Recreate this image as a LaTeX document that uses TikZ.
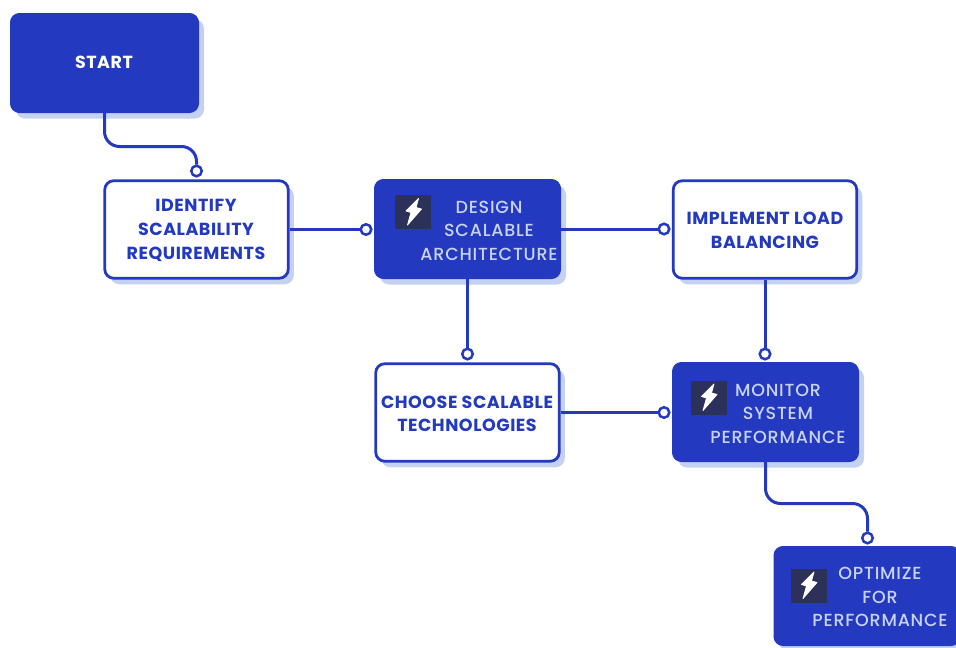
\documentclass[tikz,border=0pt]{standalone}
\usepackage{fontspec}
\setmainfont{Poppins}
\newfontfamily\softface{Poppins Medium}[LetterSpace=4.5]
\newfontfamily\boldface{Poppins}[LetterSpace=3]
\usetikzlibrary{shadows,calc}
\definecolor{bluefill}{HTML}{2339BF}
\definecolor{shade}{HTML}{C4D1F1}
\definecolor{softtext}{HTML}{C9D2F4}
\definecolor{iconbg}{HTML}{2B3158}
\tikzset{
  x=1pt,y=-1pt,
  boxbase/.style={rounded corners=9pt,inner sep=0pt,
    drop shadow={shadow xshift=5.5pt,shadow yshift=-6pt,opacity=1,fill=shade}},
  solidbox/.style={boxbase,minimum width=#1,minimum height=99pt,fill=bluefill,draw=bluefill,line width=1pt},
  solidbox/.default=186pt,
  linebox/.style={boxbase,minimum width=183.5pt,minimum height=97.5pt,fill=white,draw=bluefill,line width=2.8pt},
  softlabel/.style={text=softtext,font=\softface\fontsize{17.5}{23.6}\selectfont,align=center,inner sep=0pt},
  boldlabel/.style={text=bluefill,font=\boldface\fontsize{17.5}{23.6}\selectfont\bfseries,align=center,inner sep=0pt},
  startlabel/.style={text=white,font=\boldface\fontsize{17.5}{23.6}\selectfont\bfseries,inner sep=0pt},
  endring/.style={circle,draw=bluefill,line width=2.5pt,fill=white,minimum size=10.5pt,inner sep=0pt},
  wire/.style={draw=bluefill,line width=3pt},
  bendwire/.style={wire,rounded corners=15pt},
  iconsq/.style={fill=iconbg,minimum width=36pt,minimum height=34pt,inner sep=0pt},
}
\newcommand{\boltmark}[1]{%
  \filldraw[white,line width=0.8pt,line join=round] ($(#1)+(5.5,-13.5)$) -- ($(#1)+(-7,-1)$) -- ($(#1)+(-2,0.5)$) -- ($(#1)+(-5.5,13)$) -- ($(#1)+(8.5,-3)$) -- ($(#1)+(3,-4.5)$) -- cycle;}
\begin{document}
\begin{tikzpicture}
\useasboundingbox (0,0) rectangle (956,648);
\clip (0,0) rectangle (956,648);
% boxes
\node[solidbox=188pt] (start) at (104.5,63) {};
\node[linebox] (identify) at (196.5,229.5) {};
\node[solidbox] (design) at (467.5,229) {};
\node[linebox] (implement) at (765,229.5) {};
\node[linebox] (choose) at (467.5,412.5) {};
\node[solidbox] (monitor) at (765.5,412) {};
\node[solidbox] (optimize) at (867,596) {};
% rings
\node[endring] (r1) at (196.5,171) {};
\node[endring] (r2) at (366,229.5) {};
\node[endring] (r3) at (664,229) {};
\node[endring] (r4) at (467.5,354) {};
\node[endring] (r5) at (765,354) {};
\node[endring] (r6) at (664,412.5) {};
\node[endring] (r7) at (867.5,538) {};
\coordinate (m1) at (150,146.5);
\coordinate (m2) at (815,503.5);
% connectors
\draw[bendwire] (start.south) |- (m1) -| (r1.north);
\draw[wire] (identify.east) -- (r2.west);
\draw[wire] (design.east) -- (r3.west);
\draw[wire] (design.south) -- (r4.north);
\draw[wire] (implement.south) -- (r5.north);
\draw[wire] (choose.east) -- (r6.west);
\draw[bendwire] (monitor.south) |- (m2) -| (r7.north);
% icons
\node[iconsq] (i1) at (413,212) {}; \boltmark{i1}
\node[iconsq] (i2) at (708.5,397.5) {}; \boltmark{i2}
\node[iconsq] (i3) at (808.5,585.5) {}; \boltmark{i3}
% labels
\node[startlabel] (t0) at (104,62.5) {START};
\node[boldlabel] (t1) at (196,230.5) {IDENTIFY\\SCALABILITY\\REQUIREMENTS};
\node[softlabel] (t2) at (489,230.5) {DESIGN\\SCALABLE\\ARCHITECTURE};
\node[boldlabel] (t3) at (765,230.5) {IMPLEMENT LOAD\\BALANCING};
\node[boldlabel] (t4) at (467,414) {CHOOSE SCALABLE\\TECHNOLOGIES};
\node[softlabel] (t5) at (778,413.5) {MONITOR\\SYSTEM\\PERFORMANCE};
\node[softlabel] (t6) at (880,597) {OPTIMIZE\\FOR\\PERFORMANCE};
\end{tikzpicture}
\end{document}
